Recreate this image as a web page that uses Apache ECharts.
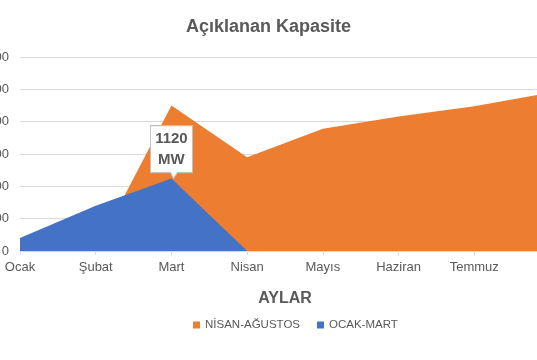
<!DOCTYPE html>
<html><head><meta charset="utf-8">
<script src="https://cdn.jsdelivr.net/npm/echarts@6/dist/echarts.min.js"></script>
<style>html,body{margin:0;padding:0;background:#fff}#c{width:537px;height:360px}</style>
</head><body><div id="c"></div>
<script>
var months = ['Ocak','Şubat','Mart','Nisan','Mayıs','Haziran','Temmuz','Ağustos'];
var nisanAgustos = [0, 0, 2250, 1450, 1890, 2080, 2240, 2450];
var ocakMart = [200, 700, 1120, 0, null, null, null, null];
var yTicks = {min: 0, max: 3000, interval: 500};
var calloutText = '1120\nMW';

var chart = echarts.init(document.getElementById('c'));
var gray = '#595959';
var font = 'Liberation Sans, Arial, sans-serif';
chart.setOption({
  animation: false,
  title: {text: 'Açıklanan Kapasite', left: 'center', top: 13,
    textStyle: {fontSize: 18, fontWeight: 'bold', color: gray, fontFamily: font}},
  legend: {bottom: 24, left: 188, itemWidth: 7, itemHeight: 7, itemGap: 17,
    icon: 'rect', textStyle: {fontSize: 11.5, color: gray, fontFamily: font},
    data: ['NİSAN-AĞUSTOS', 'OCAK-MART']},
  grid: {left: 20, right: -13, top: 57, bottom: 109, containLabel: false, outerBoundsMode: 'none'},
  xAxis: {type: 'category', data: months, boundaryGap: false,
    name: 'AYLAR', nameLocation: 'middle', nameGap: 40,
    nameTextStyle: {fontSize: 16, fontWeight: 'bold', color: gray, fontFamily: font},
    axisLine: {lineStyle: {color: '#d9d9d9'}},
    axisTick: {show: true, length: 4, lineStyle: {color: '#d9d9d9'}},
    axisLabel: {color: gray, fontSize: 13, margin: 10, fontFamily: font,
      interval: function (i) { return i < months.length - 1; }}},
  yAxis: {type: 'value', min: yTicks.min, max: yTicks.max, interval: yTicks.interval,
    axisLine: {show: false}, axisTick: {show: false},
    axisLabel: {color: gray, fontSize: 13, margin: 11, fontFamily: font,
      formatter: function (v) { return String(v); }},
    splitLine: {lineStyle: {color: '#d9d9d9'}}},
  series: [
    {name: 'NİSAN-AĞUSTOS', type: 'line', data: nisanAgustos, symbol: 'none',
      lineStyle: {width: 0}, itemStyle: {color: '#ED7D31'},
      areaStyle: {color: '#ED7D31', opacity: 1}},
    {name: 'OCAK-MART', type: 'line', data: ocakMart, symbol: 'none',
      lineStyle: {width: 0}, itemStyle: {color: '#4472C4'},
      areaStyle: {color: '#4472C4', opacity: 1},
      markPoint: {
        symbol: 'path://M0,0 L42,0 L42,47 L27,47 L23,53 L20,47 L0,47 Z',
        symbolSize: [42, 53], symbolOffset: [0, '-50%'],
        itemStyle: {color: '#ffffff', borderColor: '#bfbfbf', borderWidth: 1},
        label: {show: true, formatter: calloutText, color: gray, fontSize: 15,
          fontWeight: 'bold', lineHeight: 21, offset: [0, -3], fontFamily: font},
        data: [{coord: ['Mart', ocakMart[2]]}]
      }}
  ]
});
</script></body></html>
